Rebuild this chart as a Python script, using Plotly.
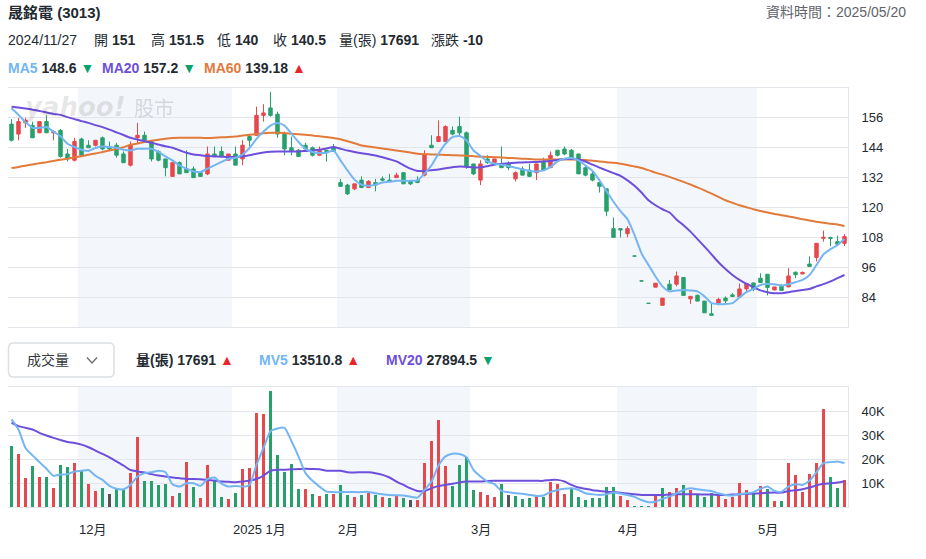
import plotly.graph_objects as go

W, H = 926, 559

# ---------------- data ----------------
stock_title = "晟銘電 (3013)"
data_time = "2025/05/20"
hover_date = "2024/11/27"
hover_idx = 7

opens = [153.5, 149.5, 154, 153, 150, 154.5, 150, 151, 141.5, 139,
         147.5, 145, 145, 148, 144.5, 145, 141.5, 137, 148, 149,
         146.5, 142.5, 139.5, 132.5, 138, 135.5, 135.5, 134, 133.5, 141.5,
         142.5, 139, 141.5, 139.5, 148.5, 149, 157, 160, 157.5, 149.5,
         144, 143, 145, 144, 141, 143, 144, 130, 129, 127.5,
         131, 128, 130, 131.5, 131, 132, 134, 130.5, 131, 133,
         145, 146.5, 146.5, 151, 152.5, 150, 137.5, 131, 139.5, 138,
         137.5, 137.5, 131.5, 135.5, 135, 134, 138.5, 136, 143, 143.5,
         143, 141.5, 136, 133.5, 130, 127.5, 111.5, 111.5, 109.5, 100.5,
         90.5, 81.5, 88.0, 80.7, 89.2, 89.2, 91.9, 83.3, 84.7, 82.4,
         77.3, 81.5, 83.6, 84.9, 84.1, 87.3, 89.7, 91.6, 93.2, 86.9,
         88.4, 88.1, 94.0, 93.3, 97.3, 99.9, 107.6, 107.9, 106.3, 105.6]
highs = [155.5, 156, 156, 154.5, 154.5, 157, 151, 151.5, 143.5, 148,
         148, 147, 147, 148.5, 146.5, 146, 142.5, 146.5, 154, 150.5,
         147, 143, 139.5, 138.5, 138.5, 143, 136.5, 134.5, 144.5, 144.5,
         144.5, 141.5, 144.5, 147, 149.5, 160.5, 161.5, 166.5, 158.5, 150.5,
         148.5, 143.5, 146, 144.5, 144.5, 143, 145.5, 131.5, 129.5, 129.5,
         132.5, 131, 131.5, 132.5, 133.5, 134, 134, 131, 132.5, 143,
         149, 155, 153, 152.5, 156.5, 150.5, 137.5, 139, 141, 139.5,
         144.5, 138.5, 134.5, 136.5, 137.5, 137.5, 140, 142.5, 143, 144.5,
         143.5, 141.5, 136.5, 134.5, 130, 127.5, 116, 111.5, 112.5, 100.5,
         90.5, 81.5, 89.6, 83.6, 90.9, 94.3, 91.9, 84.3, 85.1, 82.4,
         81.6, 83.7, 84.3, 85.6, 89.5, 89.5, 89.7, 93.6, 93.2, 88.1,
         89.2, 95.6, 94.3, 94.3, 100.4, 105.6, 110.7, 108.3, 108.7, 109.3]
lows = [146.5, 147, 152, 148, 150, 150, 147, 140, 138.5, 138.5,
        141, 144, 144.5, 143, 143, 140, 138, 136.5, 145.5, 147,
        138.5, 138.5, 132.5, 132.5, 133.5, 134, 132, 132.5, 133, 140.5,
        140.5, 139, 137, 137, 144.5, 149, 154.5, 156.5, 148, 141,
        141, 140.5, 143, 140.5, 141, 138.5, 142.5, 128.5, 125, 127,
        128, 128, 126.5, 130.5, 130.5, 132, 129.5, 129, 130, 132.5,
        144, 146.5, 146.5, 149, 149, 135.5, 133, 129, 137.5, 137.5,
        136, 135, 130.5, 133, 132.5, 131, 135, 136, 140.5, 141,
        140, 133.5, 132.5, 130.5, 126, 116.5, 108, 108, 108, 100.5,
        90.5, 81.5, 88.0, 80.7, 86.9, 88.3, 84.7, 81.3, 82.4, 77.7,
        76.7, 80.7, 81.6, 84.0, 84.1, 86.0, 86.4, 89.9, 84.7, 86.7,
        86.5, 88.1, 91.6, 93.2, 96.3, 98.3, 106.3, 104.5, 104.9, 104.5]
closes = [147, 154.5, 155, 148, 154.5, 150, 150.5, 140.5, 139.5, 146.5,
          141, 144, 147, 143.5, 143.5, 141, 138, 145, 149, 147,
          139.5, 139, 136, 138, 133.5, 134, 132, 132.5, 141.5, 140.5,
          140.5, 141.5, 137, 145, 147, 157, 158, 157, 149.5, 143.5,
          142.5, 140.5, 143.5, 141, 143, 142.5, 142.5, 128.5, 125.5, 129.5,
          128, 130.5, 129, 131, 130.5, 133, 129.5, 129.5, 130, 141.5,
          144, 148.5, 152.5, 149.5, 150, 136.5, 133.5, 137.5, 138, 139.5,
          136, 136, 134, 133, 132.5, 137.5, 135, 141, 141, 141.5,
          140, 133.5, 133, 131, 128.5, 118.5, 108, 111, 111.5, 100.5,
          90.5, 81.5, 89.6, 83.6, 86.9, 92.5, 84.7, 84.3, 82.4, 77.7,
          76.7, 83.1, 82.5, 84.3, 87.3, 89.5, 87.1, 89.9, 87.9, 88.1,
          86.7, 92.5, 93.0, 93.9, 96.3, 105.6, 108.0, 107.6, 105.2, 108.3]

ma5 = [159.9, 157.2, 154.3, 152.0, 152.0, 152.3, 150.5, 148.6, 145.6, 144.3,
       143.2, 142.7, 143.9, 144.5, 144.3, 144.0, 143.2, 142.9, 143.6, 143.6,
       143.6, 142.3, 140.5, 138.9, 136.9, 135.6, 134.5, 134.3, 135.6, 136.9,
       138.3, 139.6, 140.0, 141.3, 143.9, 147.6, 150.5, 152.9, 153.9, 152.9,
       149.6, 146.3, 143.6, 142.3, 141.9, 142.0, 142.9, 138.9, 134.9, 131.2,
       129.2, 128.7, 129.2, 130.0, 130.3, 130.7, 130.7, 130.7, 130.9, 133.6,
       136.9, 141.6, 145.6, 148.3, 148.7, 146.9, 142.9, 140.7, 138.5, 137.6,
       137.2, 136.7, 136.0, 135.3, 134.7, 134.5, 134.9, 136.3, 138.5, 139.6,
       139.9, 138.9, 136.9, 134.7, 130.9, 126.5, 122.3, 118.5, 115.3, 109.0,
       101.6, 96.9, 92.3, 88.3, 86.3, 86.7, 86.9, 86.7, 86.3, 84.3,
       81.6, 81.2, 81.2, 81.6, 83.9, 86.0, 87.3, 88.9, 89.3, 89.2,
       88.7, 89.2, 90.0, 90.9, 92.9, 96.9, 101.2, 103.3, 104.9, 107.3]
ma20 = [160.5, 160.2, 159.8, 159.3, 158.8, 158.2, 157.6, 157.2, 156.3, 155.5,
        154.7, 154.0, 153.1, 152.3, 151.3, 150.2, 149.1, 148.0, 147.3, 146.6,
        146.0, 145.3, 144.6, 144.0, 143.0, 142.0, 141.3, 141.0, 140.7, 140.5,
        140.4, 140.3, 140.3, 140.5, 141.0, 141.6, 142.1, 142.4, 142.5, 142.5,
        142.5, 142.5, 142.7, 142.9, 143.2, 143.7, 144.3, 143.6, 142.9, 142.3,
        141.8, 141.4, 140.9, 140.2, 139.4, 138.5, 137.0, 135.6, 134.7, 134.7,
        135.0, 135.3, 135.8, 136.2, 136.5, 136.3, 136.1, 136.1, 136.6, 137.2,
        137.5, 137.8, 138.0, 138.1, 138.2, 138.3, 138.5, 138.7, 139.1, 139.5,
        139.6, 139.3, 138.5, 137.2, 136.0, 134.9, 133.8, 132.7, 130.9, 128.7,
        126.0, 122.9, 120.9, 119.3, 118.0, 115.2, 112.9, 110.3, 107.3, 104.3,
        101.2, 98.0, 95.3, 92.9, 90.9, 89.3, 88.0, 86.7, 86.0, 85.6,
        85.6, 86.0, 86.5, 86.9, 87.3, 88.3, 89.2, 90.3, 91.6, 92.9]
ma60 = [135.9, 136.3, 136.8, 137.3, 137.8, 138.2, 138.7, 139.18, 139.6, 140.1,
        140.6, 141.2, 141.7, 142.3, 142.9, 143.5, 144.2, 145.2, 145.7, 146.3,
        146.8, 147.2, 147.6, 147.9, 148.0, 148.0, 148.0, 148.0, 147.9, 148.0,
        148.2, 148.3, 148.5, 148.9, 149.2, 149.5, 149.8, 150.0, 150.0, 149.9,
        149.6, 149.4, 149.2, 148.9, 148.6, 148.3, 147.9, 147.4, 146.6, 145.8,
        144.9, 144.5, 144.1, 143.7, 143.3, 142.9, 142.5, 142.1, 141.6, 141.4,
        141.3, 141.2, 141.1, 141.0, 140.9, 140.8, 140.6, 140.4, 140.3, 140.2,
        140.1, 139.9, 139.8, 139.6, 139.5, 139.3, 139.3, 139.3, 139.3, 139.3,
        139.3, 139.2, 139.1, 138.8, 138.5, 138.2, 138.0, 137.6, 137.1, 136.5,
        135.9, 135.0, 134.0, 133.2, 132.3, 131.3, 130.3, 129.2, 128.1, 126.9,
        125.6, 124.3, 122.9, 121.9, 120.9, 120.1, 119.3, 118.6, 118.0, 117.4,
        116.9, 116.4, 115.9, 115.3, 114.8, 114.3, 113.9, 113.5, 113.2, 112.5]

# volume in 張
volumes = [25600, 22200, 12200, 17200, 12700, 12700, 8000, 17691, 16500, 18500,
           15100, 9700, 6700, 8000, 5500, 7300, 6900, 14300, 29100, 10900,
           10900, 9200, 9700, 4600, 5900, 18900, 8400, 3800, 17600, 11300,
           4200, 3400, 5900, 15900, 16400, 39000, 38600, 48300, 21800, 14700,
           18000, 7600, 7400, 5500, 4600, 5500, 5500, 9200, 5000, 4200,
           5000, 5900, 5000, 4200, 3800, 4600, 3800, 2900, 2900, 18500,
           27700, 36100, 17200, 8800, 17600, 21000, 7100, 6300, 5000, 4200,
           9700, 5000, 4600, 3400, 3800, 5000, 4200, 10500, 9700, 5500,
           7600, 4200, 2900, 3800, 3800, 8400, 8400, 4600, 2900, 400,
           400, 400, 4600, 8000, 6300, 8000, 9200, 7100, 5000, 4200,
           5900, 4600, 3400, 4200, 10100, 7100, 5900, 8800, 7600, 2500,
           2500, 18500, 13400, 6300, 13800, 18500, 40700, 12600, 8000, 11300]
# volume bar colour: r = up vs previous close, g = down, n = unchanged
vol_dir = ["g", "r", "r", "g", "r", "g", "r", "g", "g", "r",
           "g", "r", "r", "g", "n", "g", "g", "r", "r", "g",
           "g", "g", "g", "r", "g", "r", "g", "r", "r", "g",
           "g", "r", "g", "r", "r", "r", "r", "g", "g", "g",
           "g", "g", "r", "g", "r", "g", "r", "g", "g", "r",
           "g", "r", "g", "r", "g", "r", "g", "n", "r", "r",
           "r", "r", "r", "g", "g", "g", "g", "r", "r", "r",
           "g", "n", "g", "g", "g", "r", "g", "r", "r", "r",
           "g", "g", "g", "g", "g", "g", "g", "r", "r", "g",
           "g", "g", "r", "g", "r", "r", "g", "r", "g", "g",
           "g", "r", "r", "r", "r", "r", "g", "r", "g", "r",
           "g", "r", "r", "r", "r", "r", "r", "g", "g", "r"]
mv5 = [36500, 32300, 24600, 21500, 18700, 15900, 13000, 13510.8, 13700, 14800,
       15100, 15400, 13000, 11300, 8800, 7600, 7400, 9200, 12700, 14100,
       14500, 15100, 14500, 9500, 8500, 9900, 9900, 8800, 11600, 12300,
       9700, 8500, 8800, 8500, 9200, 17600, 24600, 31600, 32700, 33000,
       27400, 21100, 14100, 10900, 8500, 6400, 6200, 6200, 6200, 6200,
       6200, 6300, 5700, 5300, 5000, 4900, 4800, 4300, 3900, 7100,
       10600, 17300, 21100, 22200, 22100, 20700, 15500, 12700, 10600, 9500,
       6700, 6200, 5700, 5500, 5000, 4600, 4800, 6200, 7100, 7600,
       7800, 7100, 5700, 5300, 5000, 5300, 6000, 5600, 5000, 4200,
       2900, 2000, 2200, 3400, 4300, 5700, 7100, 7800, 7400, 7000,
       6700, 5700, 5000, 4800, 5300, 5700, 6200, 7600, 8500, 6700,
       6400, 8500, 9500, 9200, 10900, 14500, 18300, 18700, 19000, 18300]
mv20 = [35100, 33700, 33000, 32300, 30900, 29800, 28800, 27894.5, 27100, 26700,
        26000, 24900, 23500, 22100, 20700, 19000, 17300, 15400, 14800, 14400,
        13700, 13100, 12700, 12300, 12000, 11700, 11700, 11600, 11300, 11000,
        10600, 10500, 10300, 10600, 11000, 11700, 13100, 15100, 15500, 15500,
        15700, 15800, 15900, 15800, 15700, 15100, 15100, 15100, 14500, 14400,
        14500, 14500, 14100, 13400, 12300, 10600, 9200, 7800, 6700, 6700,
        7800, 8800, 9200, 9700, 10200, 10600, 10600, 10600, 10800, 10900,
        10900, 10900, 10900, 10900, 10900, 10900, 10900, 11300, 11300, 10600,
        9200, 8100, 7600, 7000, 6700, 6400, 6200, 5900, 5600, 5300,
        5000, 5000, 5000, 5000, 5200, 5300, 5300, 5300, 5300, 5200,
        5200, 5000, 5000, 5200, 5300, 5500, 5600, 5700, 5900, 6000,
        6000, 6700, 7000, 7400, 8100, 9000, 9700, 9900, 10200, 10600]

month_labels = ["12月", "2025 1月", "2月", "3月", "4月", "5月"]
month_start = [10, 32, 47, 66, 87, 107]      # index of first trading day
shaded_months = [(10, 32), (47, 66), (87, 107)]  # Dec, Feb, Apr

price_ticks = [84, 96, 108, 120, 132, 144, 156]
price_range = [72, 168]
vol_ticks = [10000, 20000, 30000, 40000]
vol_tick_text = ["10K", "20K", "30K", "40K"]
vol_range = [0, 50000]

# ---------------- styling ----------------
RED = "#e5484d"
GREEN = "#28a06c"
GRAY_BAR = "#555555"
C_MA5 = "#74b5f3"
C_MA20 = "#6d4fdb"
C_MA60 = "#e27a3a"
GRID = "#e3e5ea"
SHADE = "#f3f6fa"
TXT = "#232a31"
FONT = "Liberation Sans, Noto Sans CJK TC, sans-serif"
UP_ARROW = "<span style='color:#e8242e'>▲</span>"
DN_ARROW = "<span style='color:#08a26c'>▼</span>"


def fx(px):
    return px / W


def fy(py):
    return 1 - py / H


def fmt(v):
    return f"{v:g}"


x = list(range(len(closes)))
n = len(x)
xr = [-0.5, n - 0.5]

fig = go.Figure()

fig.add_trace(go.Candlestick(
    x=x, open=opens, high=highs, low=lows, close=closes,
    increasing=dict(line=dict(color=RED, width=1), fillcolor=RED),
    decreasing=dict(line=dict(color=GREEN, width=1), fillcolor=GREEN),
    whiskerwidth=0, xaxis="x", yaxis="y", showlegend=False, hoverinfo="skip"))

for vals, col in [(ma60, C_MA60), (ma20, C_MA20), (ma5, C_MA5)]:
    fig.add_trace(go.Scatter(x=x, y=vals, mode="lines",
                             line=dict(color=col, width=2, shape="spline", smoothing=0.6),
                             xaxis="x", yaxis="y", showlegend=False, hoverinfo="skip"))

dir_color = {"r": RED, "g": GREEN, "n": GRAY_BAR}
fig.add_trace(go.Bar(x=x, y=volumes, marker=dict(color=[dir_color[d] for d in vol_dir], line=dict(width=0)),
                     width=0.5, xaxis="x2", yaxis="y2", showlegend=False, hoverinfo="skip"))
for vals, col in [(mv20, C_MA20), (mv5, C_MA5)]:
    fig.add_trace(go.Scatter(x=x, y=vals, mode="lines",
                             line=dict(color=col, width=2, shape="spline", smoothing=0.6),
                             xaxis="x2", yaxis="y2", showlegend=False, hoverinfo="skip"))

shapes = []
for (a, b) in shaded_months:
    for xa, ya in [("x", "y domain"), ("x2", "y2 domain")]:
        shapes.append(dict(type="rect", xref=xa, yref=ya, x0=a - 0.5, x1=b - 0.5, y0=0, y1=1,
                           fillcolor=SHADE, line=dict(width=0), layer="below"))

# dropdown box (rounded rect) and chevron
bx0, bx1, by0, by1, r = 8.5, 114, 343, 377, 5
path = (f"M {fx(bx0 + r)},{fy(by0)} L {fx(bx1 - r)},{fy(by0)} Q {fx(bx1)},{fy(by0)} {fx(bx1)},{fy(by0 + r)} "
        f"L {fx(bx1)},{fy(by1 - r)} Q {fx(bx1)},{fy(by1)} {fx(bx1 - r)},{fy(by1)} "
        f"L {fx(bx0 + r)},{fy(by1)} Q {fx(bx0)},{fy(by1)} {fx(bx0)},{fy(by1 - r)} "
        f"L {fx(bx0)},{fy(by0 + r)} Q {fx(bx0)},{fy(by0)} {fx(bx0 + r)},{fy(by0)} Z")
shapes.append(dict(type="path", xref="paper", yref="paper", path=path,
                   line=dict(color="#dcdfe4", width=1.5)))
shapes.append(dict(type="path", xref="paper", yref="paper",
                   path=f"M {fx(87)},{fy(357.5)} L {fx(92)},{fy(363)} L {fx(97)},{fy(357.5)}",
                   line=dict(color="#6b7177", width=1.4)))

ann = []


def text(px, py, s, size=14, color=TXT, anchor="left", family=FONT):
    ann.append(dict(xref="paper", yref="paper", x=fx(px), y=fy(py), text=s, showarrow=False,
                    xanchor=anchor, yanchor="middle", font=dict(size=size, color=color, family=family)))


h = hover_idx
text(6, 12, f"<b>{stock_title}</b>", size=15)
text(908, 12, f"資料時間：{data_time}", size=14, color="#5f656b", anchor="right")

chg = closes[h] - closes[h - 1]
line2 = [(6, hover_date),
         (92, f"開 <b>{fmt(opens[h])}</b>"),
         (149, f"高 <b>{fmt(highs[h])}</b>"),
         (215, f"低 <b>{fmt(lows[h])}</b>"),
         (271, f"收 <b>{fmt(closes[h])}</b>"),
         (337, f"量(張) <b>{volumes[h]}</b>"),
         (429, f"漲跌 <b>{fmt(chg)}</b>")]
for px, s in line2:
    text(px, 40, s)


def arrow(series):
    return UP_ARROW if series[h] >= series[h - 1] else DN_ARROW


line3 = [(6, "MA5", C_MA5, ma5), (100, "MA20", C_MA20, ma20), (202, "MA60", C_MA60, ma60)]
for px, lab, col, ser in line3:
    text(px, 68, f"<span style='color:{col}'><b>{lab}</b></span> <b>{fmt(ser[h])}</b> {arrow(ser)}")

text(25, 360, "成交量", size=14, color="#33393f")
vrow = [(134, "<b>量(張)</b>", TXT, volumes), (257, "<b>MV5</b>", C_MA5, mv5), (384, "<b>MV20</b>", C_MA20, mv20)]
for px, lab, col, ser in vrow:
    text(px, 360, f"<span style='color:{col}'>{lab}</span> <b>{fmt(ser[h])}</b> {arrow(ser)}")

# watermark
text(23, 107, "<b><i>yahoo!</i></b>", size=26, color="rgba(0,0,0,0.10)", family="DejaVu Sans, sans-serif")
text(132, 108, "股市", size=20, color="rgba(0,0,0,0.14)", family="Noto Sans CJK TC, sans-serif")

# month labels
for lab, s in zip(month_labels, month_start):
    ann.append(dict(xref="x2", yref="paper", x=s - 0.5, y=fy(529), text=lab, showarrow=False,
                    xanchor="left", yanchor="middle", xshift=-1,
                    font=dict(size=13, color=TXT, family=FONT)))

axis_common = dict(range=xr, showticklabels=False, showgrid=False, zeroline=False,
                   showline=True, mirror=True, linecolor=GRID, linewidth=1, ticks="",
                   domain=[fx(8), fx(848)], fixedrange=True, automargin=False)
yaxis_common = dict(side="right", showgrid=True, gridcolor=GRID, gridwidth=1, zeroline=False,
                    showline=True, linecolor=GRID, linewidth=1, ticks="", ticklabelstandoff=10,
                    tickfont=dict(size=13, color=TXT, family=FONT), fixedrange=True, automargin=False)

fig.update_layout(
    width=W, height=H, margin=dict(l=0, r=0, t=0, b=0),
    template="none", paper_bgcolor="white", plot_bgcolor="white",
    showlegend=False, hovermode=False, bargap=0,
    font=dict(family=FONT, color=TXT),
    xaxis=dict(axis_common, anchor="y", rangeslider=dict(visible=False)),
    xaxis2=dict(axis_common, anchor="y2", matches="x"),
    yaxis=dict(yaxis_common, anchor="x", range=price_range, tickvals=price_ticks,
               domain=[fy(327), fy(88)]),
    yaxis2=dict(yaxis_common, anchor="x2", range=vol_range, tickvals=vol_ticks,
                ticktext=vol_tick_text, domain=[fy(507), fy(387)]),
    shapes=shapes, annotations=ann,
)

fig.write_html("out.html")
